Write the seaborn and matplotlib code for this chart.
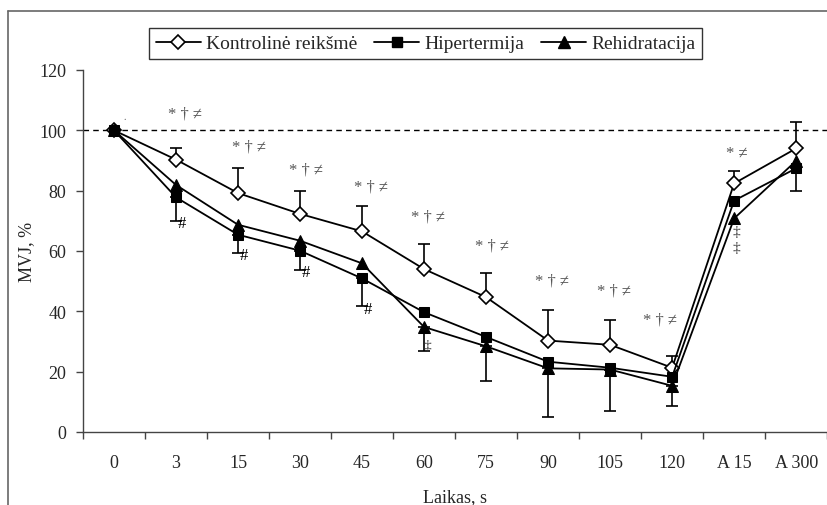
import numpy as np
import pandas as pd
import matplotlib
matplotlib.use('Agg')
import matplotlib.pyplot as plt
import seaborn as sns
from matplotlib.lines import Line2D

# ============================================================
# DUOMENYS
# ============================================================
categories = ['0', '3', '15', '30', '45', '60', '75', '90', '105', '120', 'A 15', 'A 300']

kontrole = [100, 90.3, 79.2, 72.3, 66.5, 54.0, 44.7, 30.3, 28.9, 21.3, 82.4, 94.0]
hipertermija = [100, 77.8, 65.4, 60.1, 50.9, 39.7, 31.5, 23.3, 21.3, 18.3, 76.7, 87.4]
rehidratacija = [100, 81.9, 68.7, 63.4, 55.9, 34.8, 28.4, 21.1, 20.7, 15.3, 70.8, 89.9]

# SD: kontrole rodoma i virsu, kitos grupes - i apacia
kontrole_sd = [np.nan, 3.8, 8.3, 7.5, 8.4, 8.3, 8.0, 10.1, 8.3, 4.0, 4.2, 8.6]
hipertermija_sd = [np.nan, 7.8, 6.0, 6.3, 9.2, np.nan, np.nan, np.nan, np.nan, np.nan, np.nan, 7.4]
rehidratacija_sd = [np.nan, np.nan, np.nan, np.nan, np.nan, 7.9, 11.5, 16.0, 13.6, 6.6, np.nan, np.nan]

sig_labels = ['* † ≠'] * 9 + ['* ≠']
sig_x = [1.15, 2.17, 3.10, 4.14, 5.07, 6.09, 7.07, 8.06, 8.81, 10.05]
sig_y = [105.7, 94.5, 86.9, 81.5, 71.3, 61.7, 50.1, 46.8, 37.4, 92.5]

hash_idx = [1, 2, 3, 4]
dagger2_pos = [(5.05, 28.6), (10.03, 66.5), (10.03, 61.0)]

n = len(categories)
idx = np.arange(n)
df = pd.DataFrame({'x': idx, 'kontrole': kontrole, 'hipertermija': hipertermija,
                   'rehidratacija': rehidratacija})

# ============================================================
# GRAFIKAS
# ============================================================
sns.set_style('white')
plt.rcParams['font.family'] = ['Liberation Serif', 'DejaVu Serif']

fig = plt.figure(figsize=(8.28, 5.06), dpi=100)
ax = fig.add_axes([0.1002, 0.1443, 0.8988, 0.7154])

ax.axhline(100, color='black', lw=1.0, ls=(0, (4, 3)), zorder=1)

# klaidu stulpeliai
def err(ax, y, sd, up):
    y = np.asarray(y, float)
    sd = np.asarray(sd, float)
    m = ~np.isnan(sd)
    yerr = [np.zeros(m.sum()), sd[m]] if up else [sd[m], np.zeros(m.sum())]
    ax.errorbar(idx[m], y[m], yerr=yerr, fmt='none', ecolor='black',
                elinewidth=1.2, capsize=4.5, capthick=1.2, zorder=2)

err(ax, kontrole, kontrole_sd, True)
err(ax, hipertermija, hipertermija_sd, False)
err(ax, rehidratacija, rehidratacija_sd, False)

sns.lineplot(data=df, x='x', y='kontrole', ax=ax, color='black', lw=1.3,
             marker='D', markersize=7, markerfacecolor='white',
             markeredgecolor='black', markeredgewidth=1.2, zorder=3)
sns.lineplot(data=df, x='x', y='rehidratacija', ax=ax, color='black', lw=1.3,
             marker='^', markersize=8.5, markerfacecolor='black',
             markeredgecolor='black', zorder=4)
sns.lineplot(data=df, x='x', y='hipertermija', ax=ax, color='black', lw=1.3,
             marker='s', markersize=7.5, markerfacecolor='black',
             markeredgecolor='black', zorder=5)

# reiksmingumo zymes
for lab, xx, yy in zip(sig_labels, sig_x, sig_y):
    ax.text(xx, yy, lab, ha='center', va='center', fontsize=12, color='#555555')
for i in hash_idx:
    ax.text(i + 0.09, hipertermija[i] - hipertermija_sd[i] - 0.8, '#',
            ha='center', va='center', fontsize=12, color='black')
for xx, yy in dagger2_pos:
    ax.text(xx, yy, '‡', ha='center', va='center', fontsize=11, color='#333333')
ax.text(0.17, 104.5, '.', ha='center', va='center', fontsize=7, color='#555555')

ax.set_xlim(-0.5, n - 0.5)
ax.set_ylim(0, 120)
ax.set_yticks(np.arange(0, 121, 20))
ax.set_xticks(np.arange(-0.5, n, 1.0))
ax.set_xticklabels([])
ax.set_xticks(idx, minor=True)
ax.set_xticklabels(categories, minor=True)
ax.tick_params(axis='x', which='major', direction='out', length=5, width=1,
               color='#444444', bottom=True)
ax.tick_params(axis='x', which='minor', length=0, pad=16, labelsize=13)
ax.tick_params(axis='y', direction='out', length=5, width=1, color='#444444',
               left=True, labelsize=13, pad=7)

for s in ['top', 'right']:
    ax.spines[s].set_visible(False)
for s in ['left', 'bottom']:
    ax.spines[s].set_color('#444444')
    ax.spines[s].set_linewidth(1.0)

ax.set_xlabel('Laikas, s', fontsize=13, labelpad=12)
ax.set_ylabel('MVJ, %', fontsize=13, labelpad=3)

handles = [
    Line2D([], [], color='black', lw=1.3, marker='D', markersize=7,
           markerfacecolor='white', markeredgewidth=1.2),
    Line2D([], [], color='black', lw=1.3, marker='s', markersize=7.5),
    Line2D([], [], color='black', lw=1.3, marker='^', markersize=8.5),
]
leg = fig.legend(handles, ['Kontrolinė reikšmė', 'Hipertermija', 'Rehidratacija'],
                 loc='center', bbox_to_anchor=(0.514, 0.912), ncol=3,
                 frameon=True, fancybox=False, edgecolor='black', fontsize=14,
                 handlelength=2.3, handletextpad=0.25, columnspacing=0.9,
                 borderpad=0.35)
leg.get_frame().set_linewidth(1.0)

# ramelis aplink paveiksla
fig.add_artist(Line2D([8 / 828, 1], [1 - 12 / 506, 1 - 12 / 506],
                      transform=fig.transFigure, color='#666666', lw=1.2))
fig.add_artist(Line2D([8 / 828, 8 / 828], [0, 1 - 12 / 506],
                      transform=fig.transFigure, color='#666666', lw=1.2))

fig.savefig('out.png', dpi=100)
